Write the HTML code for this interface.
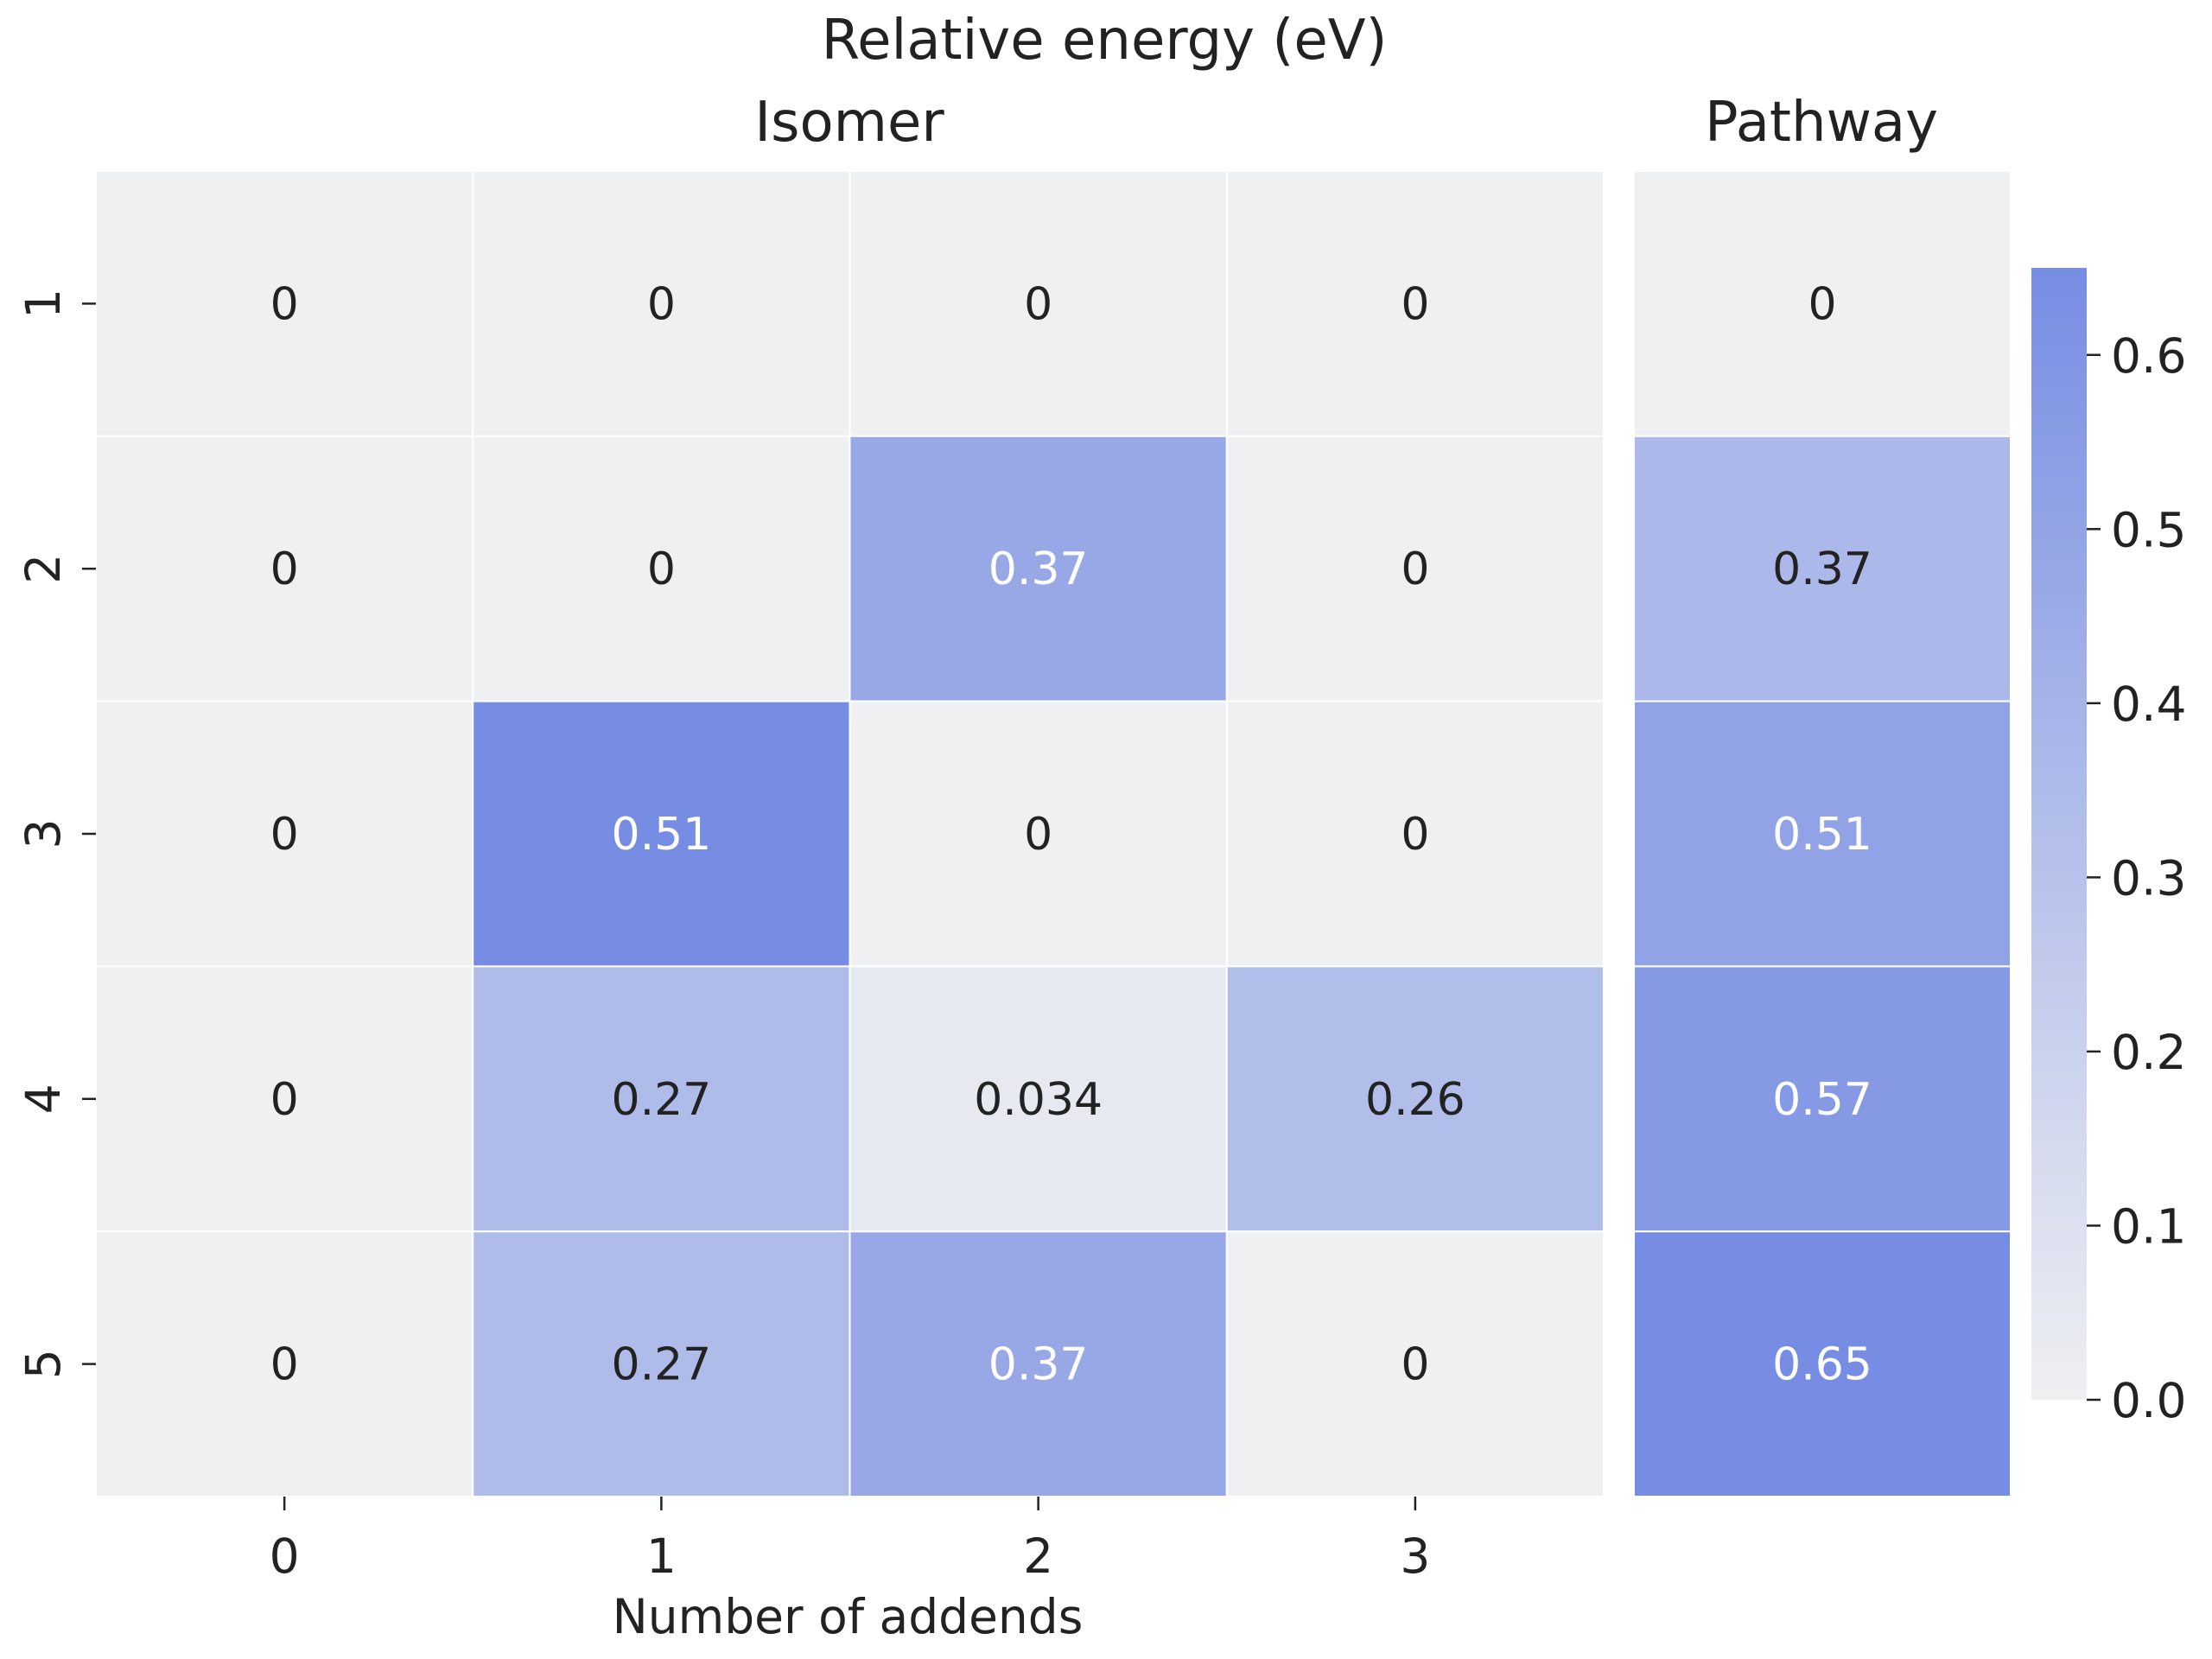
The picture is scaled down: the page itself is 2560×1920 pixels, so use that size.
<!DOCTYPE html>
<html><head><meta charset="utf-8"><style>
body{margin:0;background:#fff}
svg{display:block;font-family:"DejaVu Sans","Liberation Sans",sans-serif}
</style></head><body>
<svg id="chart" width="2560" height="1920" viewBox="0 0 2560 1920" xmlns="http://www.w3.org/2000/svg">
<rect width="2560" height="1920" fill="#fff"/>
<text x="1278" y="68" font-size="64" text-anchor="middle" fill="#222">Relative energy (eV)</text>
<text x="983" y="163" font-size="64" text-anchor="middle" fill="#222">Isomer</text>
<text x="2108" y="163" font-size="64" text-anchor="middle" fill="#222">Pathway</text>
<text x="981" y="1890" font-size="55" text-anchor="middle" fill="#222">Number of addends</text>
<g id="g"></g>
</svg>
<script>
const rowLabels = ["1","2","3","4","5"];
const colLabels = ["0","1","2","3"];
const isomerValues = [
  [0,0,0,0],
  [0,0,0.37,0],
  [0,0.51,0,0],
  [0,0.27,0.034,0.26],
  [0,0.27,0.37,0]
];
const isomerText = [
  ["0","0","0","0"],
  ["0","0","0.37","0"],
  ["0","0.51","0","0"],
  ["0","0.27","0.034","0.26"],
  ["0","0.27","0.37","0"]
];
const pathwayValues = [0,0.37,0.51,0.57,0.65];
const pathwayText = ["0","0.37","0.51","0.57","0.65"];
const cbTicks = [0.0,0.1,0.2,0.3,0.4,0.5,0.6];
const cbTickLabels = ["0.0","0.1","0.2","0.3","0.4","0.5","0.6"];

(function(){
const NS="http://www.w3.org/2000/svg";
const g=document.getElementById('g');
function el(tag,attrs,parent){const e=document.createElementNS(NS,tag);for(const k in attrs)e.setAttribute(k,attrs[k]);(parent||g).appendChild(e);return e;}
const lo=[0xef,0xf0,0xf2], hi=[0x77,0x8d,0xe3];
function col(t){t=Math.max(0,Math.min(1,t));return 'rgb('+lo.map((c,i)=>Math.round(c+(hi[i]-c)*t)).join(',')+')';}
const plotTop=198,plotBottom=1732,rows=rowLabels.length,rh=(plotBottom-plotTop)/rows;
const ix0=111,ix1=1856,cw=(ix1-ix0)/colLabels.length;
const px0=1891,px1=2327;
function y(r){return plotTop+r*rh;}
function x(c){return ix0+c*cw;}
const isoMax=Math.max(...isomerValues.flat());
const pMax=Math.max(...pathwayValues);
for(let r=0;r<rows;r++){
  for(let c=0;c<colLabels.length;c++){
    const t=isomerValues[r][c]/isoMax;
    const rc=el('rect',{x:x(c),y:y(r),width:cw,height:rh,fill:col(t),stroke:'#fff','stroke-width':2});
    
    
    const tx=el('text',{x:x(c)+cw/2,y:y(r)+rh/2+18,'font-size':52,'text-anchor':'middle',fill:t>0.65?'#fff':'#222'});
    tx.textContent=isomerText[r][c];
    
    
  }
  const tp=pathwayValues[r]/pMax;
  const pr=el('rect',{x:px0,y:y(r),width:px1-px0,height:rh,fill:col(tp),stroke:'#fff','stroke-width':2});
  
  
  const pt=el('text',{x:(px0+px1)/2,y:y(r)+rh/2+18,'font-size':52,'text-anchor':'middle',fill:tp>0.65?'#fff':'#222'});
  pt.textContent=pathwayText[r];
  
  
  const yc=y(r)+rh/2;
  const tk=el('line',{x1:ix0-16,x2:ix0,y1:yc,y2:yc,stroke:'#222','stroke-width':2.5});
  
  
  const tl=el('text',{x:0,y:0,'font-size':55,'text-anchor':'middle',fill:'#222',transform:'translate(69,'+yc+') rotate(-90)'});
  tl.textContent=rowLabels[r];
  
  
}
for(let c=0;c<colLabels.length;c++){
  const xc=x(c)+cw/2;
  const tk=el('line',{x1:xc,x2:xc,y1:plotBottom,y2:plotBottom+16,stroke:'#222','stroke-width':2.5});
  
  
  const tl=el('text',{x:xc,y:plotBottom+88,'font-size':55,'text-anchor':'middle',fill:'#222'});
  tl.textContent=colLabels[c];
  
  
}
const cbx=2351,cbw=64,cbTop=310,cbBot=1620;
const defs=el('defs',{});
const lg=el('linearGradient',{id:'cbg',x1:0,y1:1,x2:0,y2:0},defs);
el('stop',{offset:0,'stop-color':col(0)},lg);
el('stop',{offset:1,'stop-color':col(1)},lg);
const cb=el('rect',{x:cbx,y:cbTop,width:cbw,height:cbBot-cbTop,fill:'url(#cbg)'});


function cy(v){return cbBot-(v/pMax)*(cbBot-cbTop);}
cbTicks.forEach((v,i)=>{
  const yy=cy(v);
  const tk=el('line',{x1:cbx+cbw,x2:cbx+cbw+16,y1:yy,y2:yy,stroke:'#222','stroke-width':2.5});
  
  
  const tl=el('text',{x:cbx+cbw+28,y:yy+20,'font-size':55,fill:'#222'});
  tl.textContent=cbTickLabels[i];
  
  
});
})();
</script>
</body></html>
